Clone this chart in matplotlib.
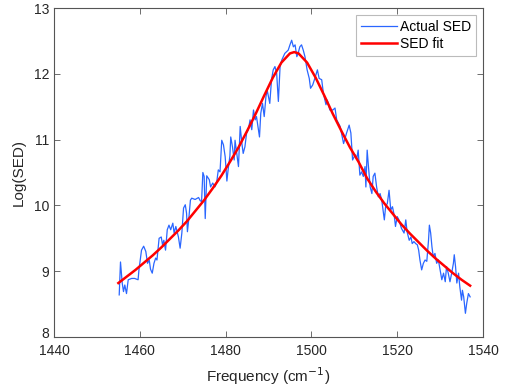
import matplotlib
matplotlib.use("Agg")
import matplotlib.pyplot as plt
from matplotlib.transforms import ScaledTranslation

plt.rcParams['font.family'] = ['Liberation Sans', 'DejaVu Sans']

sed_freq = [1455.2, 1455.5, 1455.9, 1456.2, 1456.5, 1456.9, 1457.3, 1458.1, 1458.8, 1459.6,
            1459.8, 1460.4, 1460.9, 1461.4, 1461.8, 1462.2, 1462.5, 1462.9, 1463.3, 1463.7,
            1464.0, 1464.5, 1465.0, 1465.3, 1465.6, 1466.0, 1466.4, 1466.8, 1467.2, 1467.7,
            1468.0, 1468.4, 1469.0, 1469.4, 1469.8, 1470.2, 1470.6, 1470.9, 1471.1, 1471.4,
            1471.8, 1472.1, 1472.9, 1473.7, 1474.1, 1474.4, 1474.7, 1475.0, 1475.25, 1475.6,
            1476.2, 1476.5, 1477.0, 1477.5, 1477.9, 1478.3, 1478.7, 1479.1, 1479.5, 1479.9,
            1480.3, 1480.6, 1481.0, 1481.2, 1481.6, 1482.0, 1482.2, 1482.6, 1483.0, 1483.4,
            1483.8, 1484.1, 1484.5, 1484.9, 1485.3, 1485.7, 1486.1, 1486.5, 1486.9, 1487.2,
            1487.9, 1488.2, 1488.6, 1489.0, 1489.4, 1489.7, 1490.3, 1490.7, 1491.1, 1491.5,
            1491.9, 1492.3, 1492.7, 1493.1, 1493.8, 1494.6, 1495.0, 1495.4, 1495.8, 1496.2,
            1496.6, 1496.9, 1497.3, 1497.7, 1498.1, 1498.5, 1499.0, 1499.5, 1499.8, 1500.3,
            1500.8, 1501.4, 1501.8, 1502.4, 1502.8, 1503.4, 1503.7, 1504.3, 1505.0, 1505.5,
            1505.9, 1506.7, 1507.5, 1508.2, 1508.8, 1509.2, 1509.6, 1510.2, 1510.6, 1510.9,
            1511.3, 1511.7, 1512.1, 1512.5, 1512.7, 1513.0, 1513.3, 1513.7, 1514.1, 1514.4,
            1514.8, 1515.2, 1515.6, 1516.0, 1516.4, 1516.8, 1517.0, 1517.3, 1517.7, 1518.1,
            1518.5, 1518.9, 1519.3, 1519.6, 1520.0, 1520.4, 1521.0, 1521.6, 1522.0, 1522.3,
            1522.8, 1523.2, 1523.5, 1523.9, 1524.3, 1524.7, 1525.0, 1525.3, 1525.7, 1526.1,
            1526.5, 1526.9, 1527.3, 1527.5, 1527.8, 1528.1, 1528.4, 1528.8, 1529.2, 1529.6,
            1530.0, 1530.4, 1530.8, 1531.2, 1531.5, 1531.9, 1532.3, 1532.7, 1533.1, 1533.3,
            1533.6, 1533.9, 1534.3, 1534.6, 1535.0, 1535.2, 1535.5, 1535.9, 1536.2, 1536.6,
            1537.0]
sed_log = [8.64, 9.14, 8.82, 8.69, 8.79, 8.66, 8.87, 8.89, 8.89, 8.87,
           9.02, 9.32, 9.38, 9.30, 9.12, 9.17, 9.03, 8.97, 9.12, 9.20,
           9.17, 9.50, 9.52, 9.40, 9.47, 9.32, 9.63, 9.70, 9.63, 9.73,
           9.58, 9.68, 9.52, 9.35, 9.58, 9.96, 10.01, 9.88, 9.60, 9.78,
           10.08, 10.11, 10.09, 10.12, 10.07, 10.06, 10.50, 10.44, 9.80, 10.45,
           10.39, 10.28, 10.34, 10.28, 10.34, 10.54, 10.51, 10.99, 10.92, 10.74,
           10.37, 10.55, 10.75, 11.04, 10.89, 10.69, 10.99, 10.79, 10.59, 11.20,
           10.94, 10.79, 10.89, 11.10, 11.15, 11.30, 11.15, 11.45, 11.30, 11.35,
           11.04, 11.40, 11.55, 11.35, 11.65, 11.75, 11.55, 11.91, 12.06, 12.11,
           12.01, 11.58, 12.11, 12.21, 12.31, 12.36, 12.44, 12.51, 12.41, 12.44,
           12.26, 12.31, 12.41, 12.44, 12.36, 12.26, 12.06, 11.93, 11.78, 11.83,
           11.93, 12.06, 11.93, 11.91, 11.70, 11.53, 11.60, 11.45, 11.45, 11.48,
           11.30, 11.20, 10.94, 11.10, 11.22, 11.10, 10.69, 10.77, 10.72, 10.84,
           10.46, 10.51, 10.44, 10.59, 10.28, 10.84, 10.59, 10.28, 10.18, 10.44,
           10.49, 10.28, 10.13, 10.18, 10.08, 9.88, 9.78, 9.98, 10.03, 10.23,
           9.93, 9.98, 9.85, 9.68, 9.83, 9.78, 9.65, 9.58, 9.78, 9.60,
           9.47, 9.52, 9.42, 9.45, 9.42, 9.40, 9.32, 9.17, 9.02, 9.12,
           9.17, 9.15, 9.47, 9.70, 9.58, 9.37, 9.22, 9.27, 9.12, 9.17,
           9.02, 8.87, 8.97, 8.84, 9.07, 8.97, 8.84, 8.97, 9.12, 9.25,
           9.07, 8.82, 8.97, 8.76, 8.56, 8.71, 8.61, 8.36, 8.51, 8.66,
           8.61]

fit_freq = [1455, 1457, 1459, 1461, 1463, 1465, 1467, 1469, 1471, 1473, 1475, 1477, 1479,
            1481, 1483, 1485, 1487, 1489, 1491, 1493, 1495, 1496, 1497, 1499, 1501, 1503,
            1505, 1507, 1509, 1511, 1513, 1515, 1517, 1519, 1521, 1523, 1525, 1527, 1529,
            1531, 1533, 1535, 1537]
fit_log = [8.82, 8.92, 9.02, 9.13, 9.24, 9.36, 9.49, 9.62, 9.76, 9.92, 10.08, 10.26, 10.45,
           10.66, 10.88, 11.13, 11.39, 11.67, 11.94, 12.17, 12.31, 12.33, 12.31, 12.17, 11.94,
           11.67, 11.39, 11.13, 10.88, 10.66, 10.41, 10.21, 10.03, 9.87, 9.71, 9.57, 9.44,
           9.31, 9.19, 9.08, 8.97, 8.87, 8.78]

x_ticks = [1440, 1460, 1480, 1500, 1520, 1540]
y_ticks = [8, 9, 10, 11, 12, 13]

fig = plt.figure(figsize=(5.10, 3.89), dpi=100)
ax = fig.add_axes([54/510, 1 - 337/389, 429/510, 329/389])

ax.plot(sed_freq, sed_log, color='#2a66ff', lw=0.9, label='Actual SED')
ax.plot(fit_freq, fit_log, color='#ff0000', lw=1.8, label='SED fit')

ax.set_xlim(1440, 1540)
ax.set_ylim(8, 13)
ax.set_xticks(x_ticks)
ax.set_yticks(y_ticks)

axcol = '#262626'
for s in ax.spines.values():
    s.set_color('#555555')
    s.set_linewidth(0.8)
ax.tick_params(direction='in', top=True, right=True, length=4, width=0.6,
               colors='#555555', labelcolor=axcol, labelsize=10)
ax.tick_params(axis='x', pad=5)
ax.set_xlabel('Frequency (cm$^{-1}$)', fontsize=11, color=axcol, labelpad=5)
ax.set_ylabel('Log(SED)', fontsize=11, color=axcol, labelpad=6)

# lift the lowest y tick label slightly so it clears the x tick labels
fig.canvas.draw()
lbl = ax.get_yticklabels()[0]
lbl.set_transform(lbl.get_transform() + ScaledTranslation(0, 4/100, fig.dpi_scale_trans))

leg = ax.legend(loc='upper right', fontsize=10, frameon=True, fancybox=False,
                handlelength=2.6, handletextpad=0.2, borderpad=0.35,
                labelspacing=0.25, borderaxespad=0.5)
leg.get_frame().set_edgecolor('#aaaaaa')
leg.get_frame().set_linewidth(0.8)

fig.savefig('out.png', dpi=100)
